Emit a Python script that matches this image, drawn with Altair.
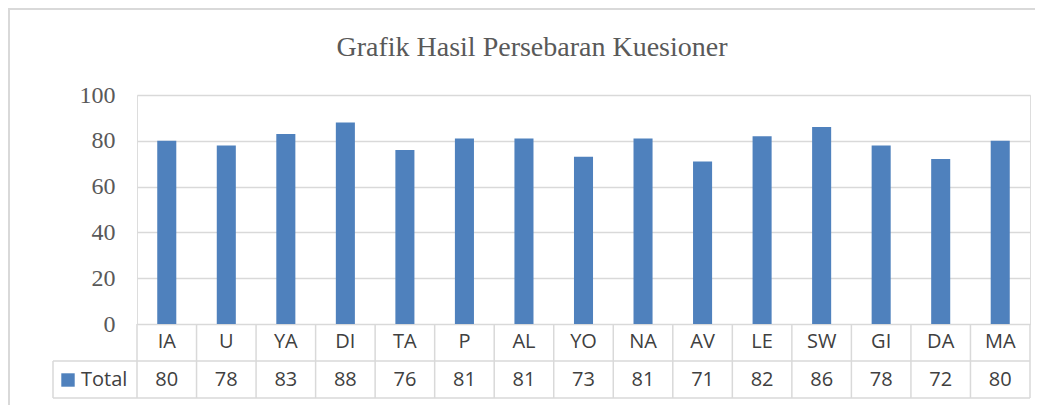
import altair as alt
import pandas as pd

categories = ["IA", "U", "YA", "DI", "TA", "P", "AL", "YO", "NA", "AV", "LE", "SW", "GI", "DA", "MA"]
totals = [80, 78, 83, 88, 76, 81, 81, 73, 81, 71, 82, 86, 78, 72, 80]
series_name = "Total"
title_text = "Grafik Hasil Persebaran Kuesioner"
y_ticks = [0, 20, 40, 60, 80, 100]

W, H = 893, 229
ROW1_Y, ROW2_Y = 247, 285
ROW_SPLIT, TABLE_BOTTOM = 266, 303
GRID = "#d9d9d9"
TXT = "#404040"
BLUE = "#4f81bd"

df = pd.DataFrame({"cat": categories, "value": totals})
one = pd.DataFrame({"t": [title_text], "s": [series_name]})

xbar = alt.X("cat:N", sort=categories, axis=None,
             scale=alt.Scale(paddingInner=0.68, paddingOuter=0.34))

border = alt.Chart(one).mark_rect(fill=None, stroke=GRID, strokeWidth=2).encode(
    x=alt.value(-128), x2=alt.value(W + 300), y=alt.value(-86), y2=alt.value(H + 300))

bars = alt.Chart(df).mark_bar(color=BLUE).encode(
    x=xbar,
    y=alt.Y("value:Q", title=None,
            scale=alt.Scale(domain=[0, 100], nice=False),
            axis=alt.Axis(values=y_ticks, grid=True, gridColor=GRID, gridWidth=1.5,
                          ticks=False, domain=False, labelFont="Liberation Serif",
                          labelFontSize=24, labelColor="#595959", labelPadding=22)),
)

tab_scale = alt.Scale(paddingInner=0, paddingOuter=0)
base_tab = alt.Chart(df).encode(
    x=alt.X("cat:N", sort=categories, axis=None, scale=tab_scale))

vlines = base_tab.mark_rule(color=GRID, strokeWidth=1.5).encode(
    x=alt.X("cat:N", sort=categories, axis=None, bandPosition=0, scale=tab_scale),
    y=alt.value(H), y2=alt.value(TABLE_BOTTOM))

cat_text = base_tab.mark_text(font="Open Sans", fontSize=20, color=TXT).encode(
    y=alt.value(ROW1_Y), text="cat:N")
val_text = base_tab.mark_text(font="Open Sans", fontSize=20, color=TXT).encode(
    y=alt.value(ROW2_Y), text="value:Q")

rline = alt.Chart(one).mark_rule(color=GRID, strokeWidth=1.5).encode(
    x=alt.value(W), y=alt.value(H), y2=alt.value(TABLE_BOTTOM))
lline = alt.Chart(one).mark_rule(color=GRID, strokeWidth=1.5).encode(
    x=alt.value(-84), y=alt.value(ROW_SPLIT), y2=alt.value(TABLE_BOTTOM))
h1 = alt.Chart(one).mark_rule(color=GRID, strokeWidth=1.5).encode(
    x=alt.value(-84), x2=alt.value(W), y=alt.value(ROW_SPLIT))
h2 = alt.Chart(one).mark_rule(color=GRID, strokeWidth=1.5).encode(
    x=alt.value(-84), x2=alt.value(W), y=alt.value(TABLE_BOTTOM))

legend_sq = alt.Chart(one).mark_square(color=BLUE, size=180, opacity=1).encode(
    x=alt.value(-69), y=alt.value(ROW2_Y))
legend_tx = alt.Chart(one).mark_text(font="Open Sans", fontSize=20, color=TXT, align="left").encode(
    x=alt.value(-56), y=alt.value(ROW2_Y), text="s:N")

title = alt.Chart(one).mark_text(font="Liberation Serif", fontSize=28, color="#595959").encode(
    x=alt.value(395), y=alt.value(-47), text="t:N")

chart = alt.layer(
    border, bars, vlines, cat_text, val_text, rline, lline, h1, h2, legend_sq, legend_tx, title
).resolve_scale(x="independent").properties(
    width=W, height=H,
    autosize=alt.AutoSizeParams(type="none"),
    padding={"left": 129, "top": 87, "right": 5, "bottom": 81},
).configure_view(stroke=None).configure(background="white")

chart.save("out.html", embed_options={"renderer": "svg", "actions": False})
